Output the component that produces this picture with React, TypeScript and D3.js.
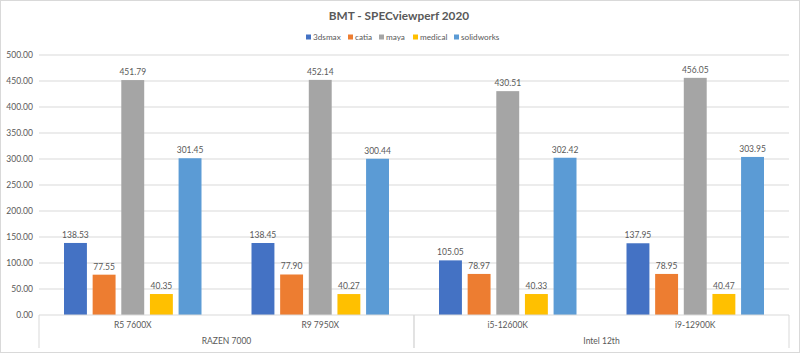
import React from "react";
import * as d3 from "d3";

const categories = ["R5 7600X", "R9 7950X", "i5-12600K", "i9-12900K"];
const groups = [
  { name: "RAZEN 7000", from: 0, to: 2 },
  { name: "Intel 12th", from: 2, to: 4 },
];
const seriesNames = ["3dsmax", "catia", "maya", "medical", "solidworks"];
const seriesColors = ["#4472C4", "#ED7D31", "#A5A5A5", "#FFC000", "#5B9BD5"];
const max3ds = [138.53, 138.45, 105.05, 137.95];
const catia = [77.55, 77.9, 78.97, 78.95];
const maya = [451.79, 452.14, 430.51, 456.05];
const medical = [40.35, 40.27, 40.33, 40.47];
const solidworks = [301.45, 300.44, 302.42, 303.95];
const yTicks = [0, 50, 100, 150, 200, 250, 300, 350, 400, 450, 500];

const values = [max3ds, catia, maya, medical, solidworks];

const W = 800,
  H = 353;
const left = 39,
  right = 789,
  top = 55,
  bottom = 315;
const font = "Lato, 'Open Sans', sans-serif";
const textColor = "#595959";
const lineColor = "#D9D9D9";

const App = () => {
  const y = d3.scaleLinear().domain([0, 500]).range([bottom, top]);
  const x0 = d3.scaleBand<number>().domain(d3.range(categories.length)).range([left, right]);
  const step = x0.bandwidth();
  const x1 = d3
    .scaleBand<number>()
    .domain(d3.range(seriesNames.length))
    .range([25, step - 25])
    .paddingInner(0.2);

  // legend layout
  const legendX = [306, 348, 379, 413, 454];

  return (
    <svg width={W} height={H} style={{ position: "absolute", left: 0, top: 0, background: "#fff" }}>
      <rect x={0.5} y={0.5} width={W - 1} height={H - 1} fill="#fff" stroke={lineColor} />
      <text
        x={399}
        y={20}
        textAnchor="middle"
        fontFamily={font}
        fontWeight="bold"
        fontSize={11.8}
        fill={textColor}
      >
        BMT - SPECviewperf 2020
      </text>
      {seriesNames.map((s, i) => (
        <g key={s} transform={`translate(${legendX[i]},37)`}>
          <rect x={0} y={-2.5} width={5} height={5} fill={seriesColors[i]} />
          <text x={7} y={3} fontFamily={font} fontSize={8.2} fill={textColor}>
            {s}
          </text>
        </g>
      ))}
      {yTicks.map((t) => (
        <g key={t}>
          {t > 0 && <line x1={left} x2={right} y1={y(t)} y2={y(t)} stroke={lineColor} />}
          <text
            x={33}
            y={y(t) + 3}
            textAnchor="end"
            fontFamily={font}
            fontSize={8.5}
            fill={textColor}
          >
            {t.toFixed(2)}
          </text>
        </g>
      ))}
      {categories.map((c, ci) => (
        <g key={c} transform={`translate(${x0(ci)},0)`}>
          {values.map((vals, si) => {
            const v = vals[ci];
            const bx = x1(si)!;
            return (
              <g key={si}>
                <rect
                  x={bx}
                  y={y(v)}
                  width={x1.bandwidth()}
                  height={bottom - y(v)}
                  fill={seriesColors[si]}
                />
                <text
                  x={bx + x1.bandwidth() / 2}
                  y={y(v) - 5}
                  textAnchor="middle"
                  fontFamily={font}
                  fontSize={8.5}
                  fill={textColor}
                >
                  {v.toFixed(2)}
                </text>
              </g>
            );
          })}
          <text
            x={step / 2}
            y={328}
            textAnchor="middle"
            fontFamily={font}
            fontSize={8.5}
            fill={textColor}
          >
            {c}
          </text>
        </g>
      ))}
      <line x1={left} x2={right} y1={bottom} y2={bottom} stroke={lineColor} />
      {groups.map((g) => {
        const gx0 = x0(g.from)!;
        const gx1 = x0(g.to - 1)! + step;
        return (
          <g key={g.name}>
            <line x1={gx0} x2={gx0} y1={bottom} y2={348} stroke={lineColor} />
            <line x1={gx1} x2={gx1} y1={bottom} y2={348} stroke={lineColor} />
            <text
              x={(gx0 + gx1) / 2}
              y={344}
              textAnchor="middle"
              fontFamily={font}
              fontSize={8.5}
              fill={textColor}
            >
              {g.name}
            </text>
          </g>
        );
      })}
    </svg>
  );
};

export default App;
